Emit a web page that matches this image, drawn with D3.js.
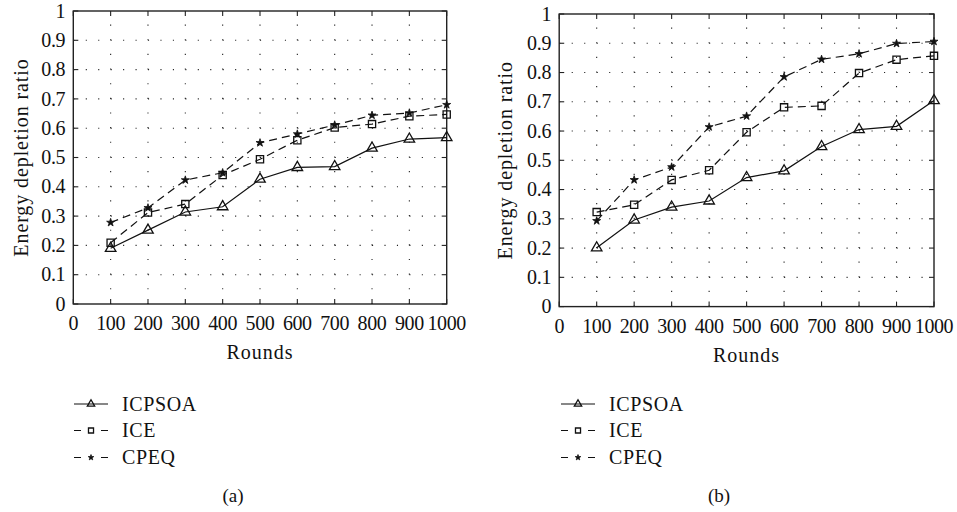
<!DOCTYPE html>
<html>
<head>
<meta charset="utf-8">
<script src="https://cdn.jsdelivr.net/npm/d3@7/dist/d3.min.js"></script>
<style>
  html, body { margin: 0; padding: 0; background: #fff; }
  svg { display: block; }
  text { font-family: "Liberation Serif", "Times New Roman", serif; fill: #111; }
</style>
</head>
<body>
<svg id="chart" width="957" height="512"></svg>
<script>
// ---------- data ----------
const rounds = [100, 200, 300, 400, 500, 600, 700, 800, 900, 1000];
const xTicks = [0, 100, 200, 300, 400, 500, 600, 700, 800, 900, 1000];
const yTicks = [0, 0.1, 0.2, 0.3, 0.4, 0.5, 0.6, 0.7, 0.8, 0.9, 1];
const seriesNames = ["ICPSOA", "ICE", "CPEQ"];
const panelLabels = ["(a)", "(b)"];
const xTitle = "Rounds";
const yTitle = "Energy depletion ratio";

// panel (a)
const icpsoaA = [0.190, 0.252, 0.314, 0.332, 0.426, 0.466, 0.469, 0.532, 0.563, 0.568];
const iceA    = [0.209, 0.312, 0.341, 0.440, 0.494, 0.559, 0.602, 0.614, 0.641, 0.647];
const cpeqA   = [0.278, 0.328, 0.423, 0.448, 0.550, 0.580, 0.611, 0.644, 0.652, 0.680];
// panel (b)
const icpsoaB = [0.201, 0.296, 0.340, 0.361, 0.441, 0.464, 0.547, 0.605, 0.616, 0.704];
const iceB    = [0.323, 0.348, 0.433, 0.466, 0.596, 0.681, 0.686, 0.798, 0.844, 0.857];
const cpeqB   = [0.293, 0.433, 0.477, 0.614, 0.651, 0.785, 0.845, 0.864, 0.899, 0.906];

// ---------- layout ----------
const svg = d3.select("#chart");
const panels = [
  { left: 73.3, right: 446.7, top: 11, bottom: 304, series: [icpsoaA, iceA, cpeqA],
    ylabX: 22, legX: 74, labX: 233, label: panelLabels[0] },
  { left: 559.2, right: 934, top: 14, bottom: 306.6, series: [icpsoaB, iceB, cpeqB],
    ylabX: 506, legX: 561, labX: 719, label: panelLabels[1] }
];
const legendRows = [404, 430.5, 457.5];
const styles = [
  { dash: null, marker: "tri" },
  { dash: "8,5", marker: "sq" },
  { dash: "8,5", marker: "star" }
];

function drawMarker(g, type, x, y, scale) {
  const s = scale || 1;
  if (type === "tri") {
    g.append("path")
      .attr("d", d3.symbol().type(d3.symbolTriangle).size(48 * s * s)())
      .attr("transform", `translate(${x},${y})`)
      .attr("fill", "none").attr("stroke", "#111").attr("stroke-width", 1.3);
  } else if (type === "sq") {
    g.append("path")
      .attr("d", d3.symbol().type(d3.symbolSquare).size(52 * s * s)())
      .attr("transform", `translate(${x},${y})`)
      .attr("fill", "none").attr("stroke", "#111").attr("stroke-width", 1.3);
  } else {
    g.append("path")
      .attr("d", d3.symbol().type(d3.symbolStar).size(20 * s * s)())
      .attr("transform", `translate(${x},${y})`)
      .attr("fill", "#111").attr("stroke", "#111").attr("stroke-width", 0.8);
  }
}

panels.forEach(p => {
  const g = svg.append("g");
  const x = d3.scaleLinear().domain([0, 1000]).range([p.left, p.right]);
  const y = d3.scaleLinear().domain([0, 1]).range([p.bottom, p.top]);

  // dotted grid
  const hStep = (x(100) - x(0)) / 3;
  const vStep = (y(0) - y(0.1)) / 2;
  g.append("g").selectAll("line").data(yTicks.slice(1, -1)).join("line")
    .attr("x1", p.left).attr("x2", p.right)
    .attr("y1", d => y(d)).attr("y2", d => y(d))
    .attr("stroke", "#222").attr("stroke-width", 1.1)
    .attr("stroke-dasharray", `1.1,${hStep - 1.1}`);
  g.append("g").selectAll("line").data(xTicks.slice(1, -1)).join("line")
    .attr("x1", d => x(d)).attr("x2", d => x(d))
    .attr("y1", p.bottom).attr("y2", p.top)
    .attr("stroke", "#222").attr("stroke-width", 1.1)
    .attr("stroke-dasharray", `1.1,${vStep - 1.1}`);

  // inward ticks on all four sides
  const tl = 5;
  const ticks = g.append("g").attr("stroke", "#222").attr("stroke-width", 1.1);
  xTicks.forEach(t => {
    ticks.append("line").attr("x1", x(t)).attr("x2", x(t)).attr("y1", p.bottom).attr("y2", p.bottom - tl);
    ticks.append("line").attr("x1", x(t)).attr("x2", x(t)).attr("y1", p.top).attr("y2", p.top + tl);
  });
  yTicks.forEach(t => {
    ticks.append("line").attr("x1", p.left).attr("x2", p.left + tl).attr("y1", y(t)).attr("y2", y(t));
    ticks.append("line").attr("x1", p.right).attr("x2", p.right - tl).attr("y1", y(t)).attr("y2", y(t));
  });

  // border
  g.append("rect")
    .attr("x", p.left).attr("y", p.top)
    .attr("width", p.right - p.left).attr("height", p.bottom - p.top)
    .attr("fill", "none").attr("stroke", "#222").attr("stroke-width", 1.4);

  // tick labels
  g.append("g").selectAll("text").data(xTicks).join("text")
    .attr("x", d => x(d)).attr("y", p.bottom + 26)
    .attr("text-anchor", "middle").attr("font-size", 20).attr("letter-spacing", -0.4)
    .text(d => d);
  g.append("g").selectAll("text").data(yTicks).join("text")
    .attr("x", p.left - 8).attr("y", d => y(d) + 6.6)
    .attr("text-anchor", "end").attr("font-size", 20).attr("letter-spacing", -0.3)
    .text(d => d3.format("~g")(d));

  // axis titles
  g.append("text")
    .attr("x", (p.left + p.right) / 2).attr("y", p.bottom + 55)
    .attr("text-anchor", "middle").attr("font-size", 20).attr("letter-spacing", 1)
    .text(xTitle);
  g.append("text")
    .attr("transform", `translate(${p.ylabX},${(p.top + p.bottom) / 2}) rotate(-90)`)
    .attr("text-anchor", "middle").attr("dy", "0.3em")
    .attr("font-size", 20).attr("letter-spacing", 0.9)
    .text(yTitle);

  // series
  const line = d3.line().x((d, i) => x(rounds[i])).y(d => y(d));
  p.series.forEach((vals, si) => {
    const st = styles[si];
    g.append("path").datum(vals)
      .attr("d", line)
      .attr("fill", "none").attr("stroke", "#111").attr("stroke-width", 1.2)
      .attr("stroke-dasharray", st.dash);
    const mg = g.append("g");
    vals.forEach((v, i) => drawMarker(mg, st.marker, x(rounds[i]), y(v)));
  });

  // legend
  seriesNames.forEach((name, si) => {
    const st = styles[si];
    const ly = legendRows[si];
    const lg = g.append("g");
    lg.append("line")
      .attr("x1", p.legX).attr("x2", p.legX + 34)
      .attr("y1", ly).attr("y2", ly)
      .attr("stroke", "#111").attr("stroke-width", 1.2)
      .attr("stroke-dasharray", st.dash ? "7,20,7" : null);
    drawMarker(lg, st.marker, p.legX + 17, ly, 0.7);
    lg.append("text")
      .attr("x", p.legX + 48).attr("y", ly + 6.6)
      .attr("font-size", 20).attr("letter-spacing", 0.6)
      .text(name);
  });

  // panel label
  g.append("text")
    .attr("x", p.labX).attr("y", 502)
    .attr("text-anchor", "middle").attr("font-size", 19)
    .text(p.label);
});
</script>
</body>
</html>
